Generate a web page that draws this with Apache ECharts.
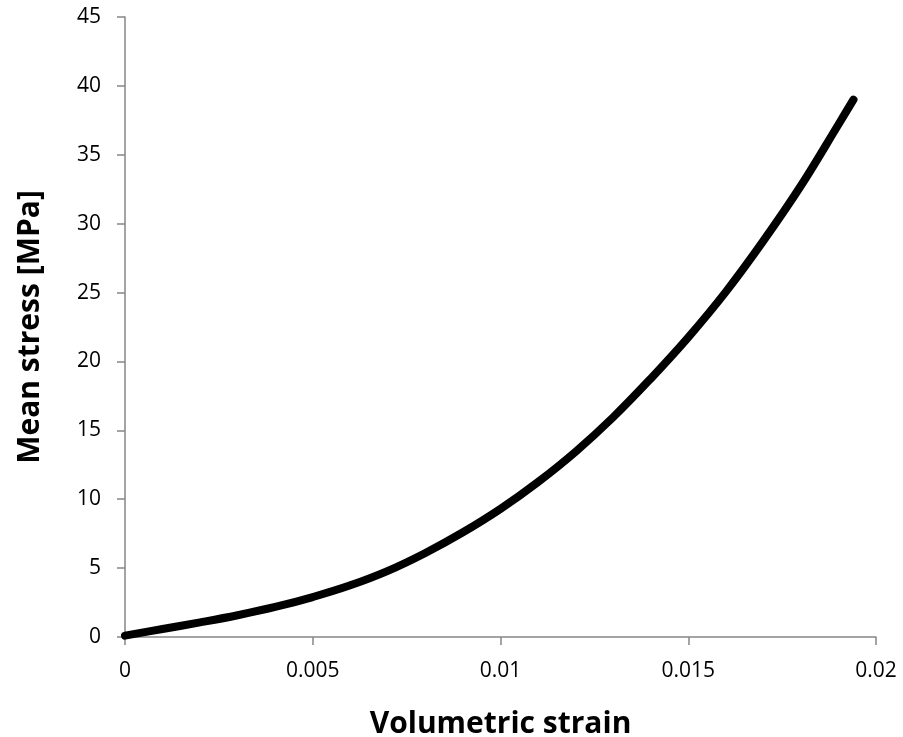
<!DOCTYPE html>
<html>
<head>
    <meta charset="utf-8">
    <title>Mean stress vs volumetric strain</title>
    <script src="https://cdn.jsdelivr.net/npm/echarts@6/dist/echarts.min.js"></script>
    <style>
        html, body { margin: 0; padding: 0; background: #fff; }
    </style>
</head>
<body>
<div id="main" style="width: 903px;height:737px;"></div>
<script type="text/javascript">
    // values
    var strain = [0, 0.001, 0.002, 0.003, 0.004, 0.005, 0.006, 0.007, 0.008, 0.009,
                  0.010, 0.011, 0.012, 0.013, 0.014, 0.015, 0.016, 0.017, 0.018, 0.019, 0.0194];
    var stress = [0.1, 0.58, 1.06, 1.58, 2.18, 2.9, 3.75, 4.8, 6.1, 7.6,
                  9.3, 11.25, 13.45, 15.95, 18.75, 21.75, 25.05, 28.75, 32.75, 37.2, 39.0];

    var myChart = echarts.init(document.getElementById('main'));

    var axisGrey = '#868686';
    var labelFont = "'Open Sans', 'Liberation Sans', sans-serif";

    option = {
        backgroundColor: '#fff',
        animation: false,
        grid: {
            left: 125,
            right: 27,
            top: 17,
            bottom: 100,
            containLabel: false,
            outerBoundsMode: 'none'
        },
        xAxis: {
            type: 'value',
            min: 0,
            max: 0.02,
            interval: 0.005,
            name: 'Volumetric strain',
            nameLocation: 'middle',
            nameGap: 72,
            nameTextStyle: {
                fontSize: 30,
                fontWeight: 'bold',
                color: '#000',
                fontFamily: labelFont
            },
            axisLine: { lineStyle: { color: axisGrey, width: 1.5 } },
            axisTick: { show: true, inside: false, length: 8, lineStyle: { color: axisGrey, width: 1.5 } },
            axisLabel: {
                fontSize: 21,
                color: '#000',
                margin: 24,
                fontFamily: labelFont,
                formatter: function (v) { return String(+v.toFixed(3)); }
            },
            splitLine: { show: false }
        },
        yAxis: {
            type: 'value',
            min: 0,
            max: 45,
            interval: 5,
            name: 'Mean stress [MPa]',
            nameLocation: 'middle',
            nameGap: 80,
            nameTextStyle: {
                fontSize: 30,
                fontWeight: 'bold',
                color: '#000',
                fontFamily: labelFont
            },
            axisLine: { show: true, lineStyle: { color: axisGrey, width: 1.5 } },
            axisTick: { show: true, inside: false, length: 8, lineStyle: { color: axisGrey, width: 1.5 } },
            axisLabel: {
                fontSize: 21,
                color: '#000',
                margin: 24,
                fontFamily: labelFont
            },
            splitLine: { show: false }
        },
        series: [{
            type: 'line',
            smooth: 0.4,
            showSymbol: false,
            data: strain.map(function (x, i) { return [x, stress[i]]; }),
            lineStyle: {
                color: '#000',
                width: 8,
                cap: 'round',
                join: 'round'
            }
        }]
    };

    myChart.setOption(option);
</script>
</body>
</html>
